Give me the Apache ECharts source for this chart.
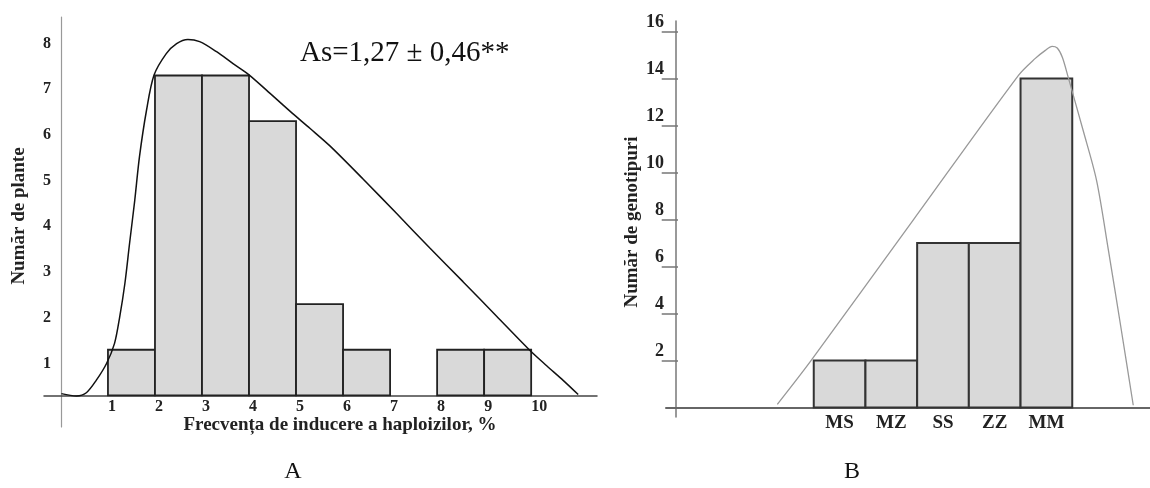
<!DOCTYPE html>
<html>
<head>
<meta charset="utf-8">
<script src="https://cdn.jsdelivr.net/npm/echarts@6/dist/echarts.min.js"></script>
<style>
  html, body { margin: 0; padding: 0; background: #ffffff; }
  #chart { width: 1150px; height: 488px; }
</style>
</head>
<body>
<div id="chart"></div>
<script>
// Panel A: histogram of haploid induction frequency
const binStartA = [1, 2, 3, 4, 5, 6, 7, 8, 9];
const countsA = [1, 7, 7, 6, 2, 1, 0, 1, 1];
const xTicksA = [1, 2, 3, 4, 5, 6, 7, 8, 9, 10];
const yTicksA = [1, 2, 3, 4, 5, 6, 7, 8];
// fitted curve [x, y]
const curveA = [
  [0.01, 0.04], [0.33, -0.01], [0.54, 0.06], [0.75, 0.33], [0.97, 0.70],
  [1.14, 1.14], [1.25, 1.72], [1.36, 2.45], [1.46, 3.33], [1.57, 4.27],
  [1.67, 5.22], [1.82, 6.24], [1.98, 7.01], [2.24, 7.48], [2.46, 7.70],
  [2.70, 7.79], [2.95, 7.74], [3.31, 7.52], [3.66, 7.26], [3.98, 7.03],
  [4.37, 6.68], [4.87, 6.22], [5.30, 5.84], [5.72, 5.46], [6.43, 4.73],
  [7.14, 3.98], [7.84, 3.23], [8.55, 2.49], [9.26, 1.74], [9.97, 0.99],
  [10.33, 0.65], [10.68, 0.33], [11.0, 0.02]
];

// Panel B: genotype classes
const categoriesB = ['MS', 'MZ', 'SS', 'ZZ', 'MM'];
const valuesB = [2, 2, 7, 7, 14];
const yTicksB = [2, 4, 6, 8, 10, 12, 14, 16];
const curveB = [
  [1.965, 0.14], [2.617, 2.0], [4.6, 8.0], [6.63, 14.14], [6.95, 14.85],
  [7.15, 15.2], [7.28, 15.37], [7.38, 15.3], [7.48, 14.9], [7.59, 14.07],
  [7.88, 11.8], [8.14, 9.67], [8.37, 6.69], [8.61, 3.43], [8.85, 0.1]
];

const catStart = 3.17; // x position of first category on panel B's axis
const serif = '"Liberation Serif", "DejaVu Serif", serif';

const chart = echarts.init(document.getElementById('chart'), null, { renderer: 'canvas' });

function barItem(fill, stroke, lw) {
  return function (params, api) {
    const x0 = api.value(0);
    const h = api.value(1);
    const p0 = api.coord([x0, h]);
    const p1 = api.coord([x0 + 1, 0]);
    return {
      type: 'rect',
      shape: { x: p0[0], y: p0[1], width: p1[0] - p0[0], height: p1[1] - p0[1] },
      style: { fill: fill, stroke: stroke, lineWidth: lw }
    };
  };
}

const barsA = binStartA
  .map((b, i) => [b, countsA[i]])
  .filter(d => d[1] > 0);
const barsB = valuesB.map((v, i) => [catStart + i - 0.5, v]);

const labelFont = { fontFamily: serif, fontWeight: 'bold', color: '#222' };

const option = {
  backgroundColor: '#ffffff',
  animation: false,
  grid: [
    { left: 44, right: 553, top: 17, bottom: 61, outerBoundsMode: 'none', containLabel: false },
    { left: 666, right: 0, top: 21, bottom: 71, outerBoundsMode: 'none', containLabel: false }
  ],
  xAxis: [
    {
      type: 'value', gridIndex: 0, min: -0.36, max: 11.4,
      axisLine: { onZero: true, lineStyle: { color: '#444', width: 1.5 } },
      axisTick: { show: false },
      splitLine: { show: false },
      axisLabel: Object.assign({
        customValues: xTicksA, align: 'left', margin: -28, fontSize: 16
      }, labelFont)
    },
    {
      type: 'value', gridIndex: 1, min: -0.188, max: 9.174,
      axisLine: { onZero: true, lineStyle: { color: '#666', width: 2 } },
      axisTick: { show: false },
      splitLine: { show: false },
      axisLabel: Object.assign({
        customValues: categoriesB.map((c, i) => catStart + i),
        formatter: v => categoriesB[Math.round(v - catStart)] || '',
        margin: -3, fontSize: 19
      }, labelFont)
    }
  ],
  yAxis: [
    {
      type: 'value', gridIndex: 0, min: -0.69, max: 8.28,
      axisLine: { show: true, onZero: true, lineStyle: { color: '#999', width: 1.2 } },
      axisTick: { show: false },
      splitLine: { show: false },
      axisLabel: Object.assign({
        // the printed labels sit a little below their gridline value
        customValues: yTicksA.map(v => v - 0.3),
        formatter: v => String(Math.round(v)),
        margin: -7, fontSize: 16
      }, labelFont)
    },
    {
      type: 'value', gridIndex: 1, min: -0.4, max: 16.45,
      axisLine: { show: true, onZero: true, lineStyle: { color: '#777', width: 1.5 } },
      axisTick: { show: true, customValues: yTicksB, length: 14, lineStyle: { color: '#777', width: 1.5 } },
      splitLine: { show: false },
      axisLabel: Object.assign({
        customValues: yTicksB, margin: 2, verticalAlign: 'bottom', fontSize: 18
      }, labelFont)
    },
    {
      // second copy of panel B's y axis only to draw the inner half of the ticks
      type: 'value', gridIndex: 1, min: -0.4, max: 16.45, position: 'left',
      axisLine: { show: false, onZero: true },
      axisTick: { show: true, inside: true, customValues: yTicksB, length: 12, lineStyle: { color: '#777', width: 1.5 } },
      axisLabel: { show: false },
      splitLine: { show: false }
    }
  ],
  series: [
    {
      type: 'custom', xAxisIndex: 0, yAxisIndex: 0,
      renderItem: barItem('#d9d9d9', '#222', 1.8),
      data: barsA, z: 2
    },
    {
      type: 'line', xAxisIndex: 0, yAxisIndex: 0,
      data: curveA, smooth: 0.3, symbol: 'none',
      lineStyle: { color: '#111', width: 1.5 }, z: 3
    },
    {
      type: 'custom', xAxisIndex: 1, yAxisIndex: 1,
      renderItem: barItem('#d9d9d9', '#333', 2),
      data: barsB, z: 2
    },
    {
      type: 'line', xAxisIndex: 1, yAxisIndex: 1,
      data: curveB, smooth: 0.3, symbol: 'none',
      lineStyle: { color: '#999', width: 1.3 }, z: 3
    }
  ],
  graphic: [
    {
      type: 'text', x: 300, y: 53,
      style: { text: 'As=1,27 ± 0,46**', font: '29px ' + serif, fill: '#111', verticalAlign: 'middle' }
    },
    {
      type: 'text', x: 340, y: 425,
      style: { text: 'Frecvența de inducere a haploizilor, %', font: 'bold 19px ' + serif, fill: '#222', align: 'center', verticalAlign: 'middle' }
    },
    {
      type: 'text', x: 19, y: 216, rotation: Math.PI / 2,
      style: { text: 'Număr de plante', font: 'bold 19px ' + serif, fill: '#222', align: 'center', verticalAlign: 'middle' }
    },
    {
      type: 'text', x: 632, y: 222, rotation: Math.PI / 2,
      style: { text: 'Număr de genotipuri', font: 'bold 19px ' + serif, fill: '#222', align: 'center', verticalAlign: 'middle' }
    },
    {
      type: 'text', x: 293, y: 472,
      style: { text: 'A', font: '24px ' + serif, fill: '#111', align: 'center', verticalAlign: 'middle' }
    },
    {
      type: 'text', x: 852, y: 472,
      style: { text: 'B', font: '24px ' + serif, fill: '#111', align: 'center', verticalAlign: 'middle' }
    }
  ]
};

chart.setOption(option);
</script>
</body>
</html>
